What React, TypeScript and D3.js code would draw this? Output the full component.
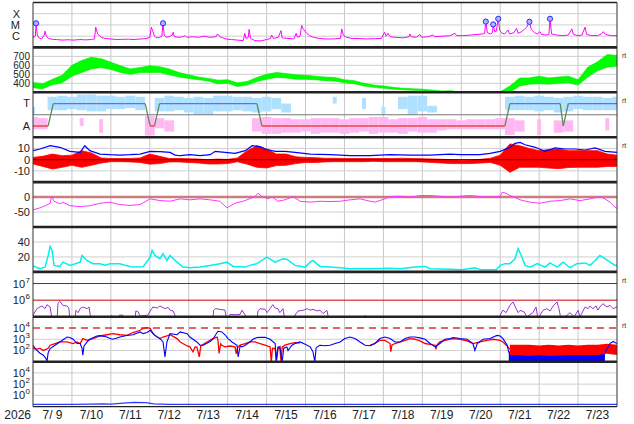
import React from 'react';
import * as d3 from 'd3';

type P = [number, number];
type B = [number, number, number];

// ---------- text ----------
const YEAR = '2026';
const DAY_LABELS = ['7/ 9', '7/10', '7/11', '7/12', '7/13', '7/14', '7/15', '7/16', '7/17', '7/18', '7/19', '7/20', '7/21', '7/22', '7/23'];
const DAY_START = 9;
const DAY_END = 24;

// ---------- panel 1: X-ray flux (log10 W/m2) ----------
const XRAY: P[] = [
  [9.0, -6.1], [9.06, -6.0], [9.08, -4.85], [9.11, -5.9], [9.15, -6.15], [9.22, -6.25], [9.29, -5.9], [9.31, -5.55], [9.34, -6.0], [9.4, -6.2],
  [9.5, -6.28], [9.6, -6.3], [9.75, -6.35], [9.9, -6.32], [10.05, -6.35], [10.2, -6.3], [10.35, -6.33], [10.5, -6.3], [10.58, -6.25], [10.61, -5.2],
  [10.66, -5.8], [10.75, -6.1], [10.85, -6.2], [11.0, -6.25], [11.15, -6.3], [11.3, -6.28], [11.45, -6.27], [11.6, -6.3], [11.75, -6.25], [11.9, -6.22],
  [12.0, -6.1], [12.04, -5.2], [12.08, -5.6], [12.12, -6.0], [12.18, -6.15], [12.25, -6.1], [12.31, -6.0], [12.34, -4.85], [12.37, -5.9], [12.42, -6.1],
  [12.5, -6.05], [12.58, -5.9], [12.6, -5.65], [12.63, -6.05], [12.75, -6.1], [12.85, -6.05], [12.9, -5.95], [12.95, -6.1], [13.1, -6.05], [13.25, -6.1],
  [13.4, -6.0], [13.55, -6.1], [13.7, -6.05], [13.74, -5.8], [13.8, -6.05], [13.95, -6.25], [14.1, -6.3], [14.25, -6.35], [14.4, -6.4], [14.44, -5.75],
  [14.47, -6.2], [14.53, -6.1], [14.55, -5.4], [14.59, -6.2], [14.7, -6.4], [14.85, -6.42], [15.0, -6.3], [15.1, -6.2], [15.13, -5.9], [15.17, -6.2],
  [15.3, -6.1], [15.37, -5.5], [15.4, -6.15], [15.55, -6.2], [15.7, -6.25], [15.76, -5.75], [15.79, -6.1], [15.86, -6.0], [15.9, -5.05], [15.95, -5.4],
  [16.02, -5.7], [16.1, -5.95], [16.2, -6.1], [16.35, -6.2], [16.5, -6.25], [16.7, -6.25], [16.9, -6.2], [16.93, -5.35], [16.97, -5.9], [17.05, -6.1],
  [17.2, -6.2], [17.4, -6.22], [17.6, -6.25], [17.8, -6.22], [17.95, -6.2], [18.03, -5.65], [18.07, -6.0], [18.12, -5.75], [18.17, -6.05], [18.3, -6.1],
  [18.5, -6.15], [18.66, -6.05], [18.68, -5.8], [18.72, -6.05], [18.85, -6.1], [18.94, -5.85], [18.98, -6.1], [19.15, -6.05], [19.27, -5.9], [19.32, -6.05],
  [19.5, -6.0], [19.7, -5.97], [19.84, -5.75], [19.88, -5.95], [20.05, -5.95], [20.25, -5.9], [20.4, -5.85], [20.55, -5.8], [20.6, -5.75], [20.63, -4.7],
  [20.67, -5.7], [20.75, -5.8], [20.8, -5.7], [20.82, -4.95], [20.86, -5.6], [20.9, -5.55], [20.95, -4.45], [20.99, -5.5], [21.05, -5.75], [21.12, -5.8],
  [21.2, -5.45], [21.24, -5.8], [21.35, -5.7], [21.42, -5.3], [21.46, -5.75], [21.55, -5.6], [21.62, -5.4], [21.68, -5.2], [21.75, -4.72], [21.8, -5.4],
  [21.88, -5.7], [21.95, -5.8], [22.02, -5.6], [22.06, -5.85], [22.18, -5.9], [22.25, -5.85], [22.28, -4.45], [22.32, -5.8], [22.45, -5.9], [22.6, -5.95],
  [22.75, -5.9], [22.84, -5.35], [22.88, -5.85], [23.0, -5.95], [23.1, -5.9], [23.18, -5.2], [23.22, -5.85], [23.35, -5.95], [23.5, -5.95], [23.6, -5.8],
  [23.65, -5.6], [23.7, -5.85], [23.85, -5.95], [24.0, -5.95],
];
const FLARES: P[] = [[9.08, -4.85], [12.34, -4.85], [20.63, -4.7], [20.82, -4.95], [20.95, -4.45], [21.75, -4.72], [22.28, -4.45]];

// ---------- panel 2: solar wind speed, 6-hourly [low, high] km/s ----------
const SPEED_BAND: P[] = [
  [350, 410], [340, 395], [385, 445], [405, 490], [480, 600], [520, 655], [560, 690], [575, 675], [555, 635], [520, 595],
  [500, 560], [520, 576], [520, 595], [520, 585], [495, 560], [470, 520], [455, 495], [440, 470], [425, 455], [395, 435],
  [400, 440], [365, 405], [380, 420], [420, 465], [445, 500], [465, 520], [460, 510], [445, 495], [445, 490], [440, 480],
  [430, 470], [425, 465], [405, 440], [395, 430], [370, 400], [355, 380], [345, 370], [335, 355], [328, 345], [322, 340],
  [318, 335], [310, 325], [300, 315], [300, 318], [285, 295], [280, 290], [280, 290], [280, 290], [290, 305], [300, 370],
  [370, 460], [390, 460], [395, 480], [390, 460], [400, 470], [405, 480], [380, 440], [470, 580], [540, 640], [580, 720],
  [590, 710],
];

// ---------- panel 3: IMF sector (T = +1, A = -1) ----------
const POLARITY: P[] = [
  [9.0, -1], [9.39, -1], [9.52, 1], [11.88, 1], [12.01, -1], [12.12, -1], [12.25, 1], [14.75, 1], [14.88, -1],
  [21.12, -1], [21.25, 1], [22.54, 1], [22.62, -1], [22.75, 1], [24.0, 1],
];
const T_SCATTER: (P | null)[] = [
  [0, 0.7], null, [0.4, 1.6], [0.4, 1.7], [0.5, 1.6], [0.4, 1.8], [0.3, 1.8], [0.3, 1.7], [0.5, 1.7], [0.5, 1.6],
  [0.6, 1.7], [0.4, 1.6], null, [0.3, 1.5], [0.3, 1.7], [0.4, 1.6], [0.2, 1.5], [0, 1.6], [0, 1.5], [0.3, 1.7],
  [0.3, 1.7], [0.4, 1.6], [0.3, 1.6], [0.2, 1.5], [0.3, 1.6], [0.5, 1.5], [0.2, 1.0], null, null, null,
  null, [1.0, 1.6], null, null, [0.5, 1.5], null, [0, 0.7], null, [0.5, 1.6], [0, 1.7],
  [0.3, 1.7], [0.2, 0.8], null, null, null, null, null, null, null, [0.4, 1.6],
  [0.4, 1.7], [0.4, 1.6], [0.3, 1.7], [0.4, 1.6], [0.2, 1.5], [0.3, 1.6], [0.5, 1.7], [0.4, 1.6], [0.4, 1.6], [0.4, 1.5],
  [0.4, 1.6],
];
const A_SCATTER: (P | null)[] = [
  [-1.3, -0.2], [-1.3, -0.3], null, null, null, [-1.0, -0.3], null, [-1.6, -0.4], null, null,
  null, null, [-1.85, -0.1], [-1.2, -0.3], [-1.5, -0.5], null, null, null, null, null,
  null, null, null, [-1.5, -0.3], [-1.7, -0.2], [-1.7, -0.3], [-1.6, -0.3], [-1.6, -0.4], [-1.5, -0.4], [-1.7, -0.3],
  [-1.6, -0.3], [-1.6, -0.3], [-1.7, -0.4], [-1.6, -0.3], [-1.5, -0.3], [-1.7, -0.2], [-1.6, -0.2], [-1.6, -0.4], [-1.7, -0.3], [-1.5, -0.3],
  [-1.6, -0.2], [-1.6, -0.4], [-1.4, -0.4], [-1.3, -0.4], [-1.3, -0.5], [-1.3, -0.4], [-1.3, -0.4], [-1.3, -0.4], [-1.3, -0.3], [-1.8, -0.3],
  [-1.5, -0.5], null, [-1.8, -0.4], null, [-1.6, -0.5], [-1.5, -0.5], null, null, null, [-1.4, -0.3],
  null,
];

// ---------- panel 4: IMF Bt and Bz (nT) ----------
const BT: P[] = [
  [9.0, 8], [9.18, 9.5], [9.44, 12.4], [9.69, 11], [9.95, 7.4], [10.21, 6.5], [10.3, 11], [10.33, 12.4], [10.46, 8], [10.72, 5],
  [10.98, 4.4], [11.23, 4.1], [11.49, 4.4], [11.75, 5], [12.01, 7.4], [12.26, 7.1], [12.52, 6.5], [12.65, 4.1], [12.78, 3.5], [13.03, 4.4],
  [13.29, 3.5], [13.55, 4.4], [13.68, 7.4], [13.93, 6.5], [14.19, 5.6], [14.45, 8], [14.63, 12.4], [14.83, 11.6], [14.96, 9.5], [15.22, 7.4],
  [15.47, 7.4], [15.73, 6.5], [16.12, 5], [16.63, 4.4], [17.14, 3.5], [17.66, 3.5], [18.17, 4.4], [18.68, 4.1], [19.2, 4.1], [19.71, 5],
  [19.97, 4.4], [20.48, 4.4], [20.74, 5.6], [21.0, 7.4], [21.25, 11], [21.38, 14.5], [21.51, 15.4], [21.64, 13.3], [21.9, 11], [22.15, 7.4],
  [22.41, 10.4], [22.67, 9.5], [22.92, 9.5], [23.18, 8.6], [23.44, 10.4], [23.69, 7.4], [24.0, 6.5],
];
const BZ_BAND: P[] = [
  [-3.8, 2], [-6, 3], [-8.3, 5], [-6.8, 3.5], [-5, 4], [-6.8, 8], [-5, 6], [-3, 1.5], [-1.8, 1], [-1.8, 1],
  [-2, 1], [-2.5, 1.5], [-4, 5], [-3.5, 3], [-2, 1], [-2, 1], [-2.5, 0.8], [-3, 0.5], [-3.8, 0], [-3.8, 0.5],
  [-3.5, 0.2], [-1.8, 1.5], [-4, 8], [-6.8, 12.4], [-7.4, 9.5], [-5.3, 5], [-5, 5], [-3.5, 2.5], [-2.5, 2], [-2.5, 1.8],
  [-2, 1.2], [-1.8, 1.2], [-1.8, 1], [-1.8, 1], [-1.8, 1], [-1.5, 1], [-1.8, 1], [-1.8, 1], [-1.8, 1.2], [-1.8, 1],
  [-2, 0.8], [-2.5, 0.6], [-3, 0.3], [-3.5, 0], [-3.5, -0.5], [-3.5, -0.3], [-3, 0.3], [-2.5, 1.2], [-5, 4], [-11.3, 14],
  [-6.8, 12.4], [-6.8, 10], [-6.8, 8], [-7.5, 9], [-8, 9.5], [-7, 8], [-6.8, 8], [-6.8, 8], [-6.8, 8], [-6, 5],
  [-6, 4],
];

// ---------- panel 5: Dst (nT) ----------
const DST: P[] = [
  [9.0, -42.7], [9.18, -36], [9.33, -28], [9.44, -20.7], [9.475, 2.7], [9.54, -14], [9.69, -22.7], [9.77, -17], [9.95, -29], [10.21, -31.7],
  [10.46, -29], [10.72, -20.7], [10.98, -17], [11.23, -25], [11.49, -28], [11.75, -25], [12.01, -6], [12.26, -11.7], [12.52, -14], [12.78, -6],
  [13.03, -9.3], [13.29, -6], [13.55, -9.3], [13.8, -14], [13.98, -36], [14.19, -20.7], [14.45, -11.7], [14.7, 1.7], [14.78, 12.7], [14.88, 1.7],
  [15.04, -6], [15.14, 1.7], [15.29, -14], [15.47, -9.3], [15.68, 1.7], [15.86, -14], [16.12, -17], [16.37, -14], [16.63, -15], [16.89, -14],
  [17.14, -9.3], [17.4, -6], [17.66, -14], [17.78, -17], [18.04, -6], [18.17, 1.7], [18.43, 2.7], [18.68, -0.7], [18.94, 5], [19.2, 5],
  [19.45, 2.7], [19.71, -0.7], [19.97, 2.7], [20.23, 5], [20.48, 1.7], [20.74, -0.7], [21.0, 2.7], [21.05, 16], [21.15, 12.7], [21.25, 5],
  [21.38, -0.7], [21.51, -9.3], [21.77, -17], [22.02, -20.7], [22.28, -14], [22.54, -11.7], [22.79, -6], [23.05, -11.7], [23.31, -6], [23.56, 1.7],
  [23.69, -6], [23.82, -17], [23.95, -34], [24.0, -38],
];

// ---------- panel 6: cyan index ----------
const CYAN: P[] = [
  [9.0, 8], [9.18, 4.3], [9.31, 6.4], [9.39, 22], [9.44, 34], [9.49, 28.7], [9.54, 8.7], [9.69, 7.3], [9.77, 13], [9.95, 8.7],
  [10.21, 13], [10.26, 22], [10.39, 15], [10.54, 11], [10.72, 11], [10.85, 9], [10.98, 11], [11.23, 11], [11.36, 9], [11.57, 6.4],
  [11.83, 7], [12.01, 19.7], [12.06, 28.7], [12.13, 22], [12.26, 17.6], [12.34, 24.3], [12.44, 15.3], [12.52, 22], [12.7, 13], [12.85, 6.4],
  [13.03, 5.6], [13.29, 6.4], [13.55, 8.7], [13.8, 11], [13.98, 13], [14.14, 7.3], [14.45, 6.4], [14.57, 8.7], [14.75, 11], [15.01, 19.7],
  [15.22, 13], [15.42, 17.6], [15.52, 17], [15.73, 8.7], [15.99, 6.4], [16.12, 13], [16.19, 15.3], [16.37, 7.3], [16.63, 6.4], [16.89, 5.6],
  [17.14, 4.3], [17.66, 4.3], [18.17, 5], [18.43, 4.3], [18.81, 6.4], [19.07, 7.3], [19.2, 4.3], [19.71, 3.4], [20.0, 3], [20.35, 5.6],
  [20.5, 3], [20.9, 3], [21.0, 8.7], [21.12, 11], [21.25, 11], [21.38, 17.6], [21.46, 31], [21.54, 22], [21.64, 8.7], [21.77, 6.4],
  [21.95, 11], [22.15, 6.4], [22.28, 12], [22.46, 6.4], [22.62, 13], [22.79, 5.6], [22.97, 11], [23.18, 12], [23.31, 8.7], [23.44, 15.3],
  [23.56, 22], [23.69, 17.6], [23.82, 13], [23.95, 8.7], [24.0, 9],
];

// ---------- panel 7: purple flux (log10) ----------
const PURPLE: P[] = [
  [9.0, 5.09], [9.1, 5.49], [9.13, 5.53], [9.23, 5.65], [9.31, 5.49], [9.36, 5.73], [9.44, 5.59], [9.49, 4.8], [9.62, 4.8], [9.64, 5.79],
  [9.69, 5.93], [9.77, 5.69], [9.87, 5.65], [9.92, 5.53], [9.95, 4.8], [10.08, 4.8], [10.1, 5.39], [10.16, 5.25], [10.21, 5.49], [10.28, 5.59],
  [10.39, 5.49], [10.44, 5.59], [10.49, 4.8], [10.5, NaN],
  [10.98, 4.8], [11.02, 5.1], [11.08, 4.8], [11.1, NaN],
  [11.18, 4.8], [11.22, 5.1], [11.31, 5.1], [11.33, 4.8], [11.4, NaN],
  [11.62, 4.8], [11.64, 5.35], [11.7, 5.3], [11.75, 5.05], [11.95, 5.1], [12.01, 5.35], [12.08, 5.59], [12.19, 5.53], [12.26, 5.65], [12.39, 5.49],
  [12.47, 5.57], [12.52, 5.39], [12.6, 5.35], [12.7, 4.8], [12.8, NaN],
  [13.62, 4.8], [13.64, 5.39], [13.68, 5.49], [13.8, 5.45], [13.93, 5.4], [13.98, 4.8], [14.06, 5.15], [14.19, 5.12], [14.32, 5.15], [14.37, 5.4],
  [14.45, 5.1], [14.5, 4.8], [14.6, NaN],
  [14.75, 4.8], [14.78, 5.35], [14.83, 5.49], [14.96, 5.45], [15.01, 5.25], [15.09, 5.49], [15.16, 5.73], [15.22, 5.53], [15.29, 5.49], [15.34, 5.25],
  [15.42, 5.49], [15.47, 4.8], [15.5, NaN],
  [15.7, 4.8], [15.73, 5.1], [15.81, 5.35], [15.94, 5.39], [16.04, 5.49], [16.12, 5.4], [16.19, 5.45], [16.3, 5.35], [16.37, 5.4], [16.45, 5.19],
  [16.55, 5.39], [16.6, 4.8], [16.7, NaN],
  [17.5, 4.8], [17.53, 5.08], [17.57, 4.8], [17.6, NaN],
  [20.28, 4.8], [20.33, 5.02], [20.45, 4.95], [20.5, 4.8], [20.6, NaN],
  [20.98, 4.8], [21.0, 5.1], [21.07, 5.4], [21.15, 5.25], [21.25, 5.69], [21.33, 5.89], [21.41, 5.49], [21.46, 5.25], [21.51, 5.39], [21.61, 5.3],
  [21.69, 5.0], [21.84, 5.25], [21.92, 5.59], [21.97, 4.9], [22.1, 5.39], [22.2, 5.49], [22.28, 5.35], [22.36, 5.65], [22.46, 5.89], [22.51, 5.49],
  [22.56, 4.85], [22.72, 5.1], [22.79, 5.25], [22.9, 5.0], [23.0, 5.39], [23.05, 5.0], [23.18, 5.59], [23.26, 5.49], [23.31, 5.65], [23.38, 5.49],
  [23.46, 5.65], [23.51, 5.4], [23.56, 5.59], [23.64, 5.79], [23.74, 5.59], [23.82, 5.69], [23.9, 5.49], [24.0, 5.59],
];

// ---------- panel 8: electron flux (log10), red and blue ----------
const E_BLUE: P[] = [
  [9.0, 2.45], [9.1, 2.0], [9.18, 1.75], [9.26, 1.6], [9.33, 1.3], [9.36, 1.05], [9.39, 1.8], [9.44, 2.17], [9.565, 2.47], [9.69, 2.76],
  [9.82, 3.06], [9.87, 3.2], [9.95, 3.15], [10.03, 3.0], [10.13, 2.62], [10.21, 2.62], [10.26, 2.2], [10.28, 1.58], [10.31, 2.4], [10.39, 2.76],
  [10.46, 3.0], [10.64, 3.29], [10.72, 3.32], [10.9, 3.2], [10.98, 3.06], [11.05, 3.0], [11.16, 3.12], [11.23, 3.2], [11.41, 3.34], [11.57, 3.4],
  [11.75, 3.65], [11.83, 3.5], [11.93, 3.6], [12.01, 3.8], [12.13, 3.34], [12.26, 3.06], [12.34, 2.76], [12.39, 1.43], [12.44, 2.76], [12.52, 3.5],
  [12.7, 3.4], [12.78, 3.65], [12.96, 3.5], [13.03, 3.2], [13.21, 2.76], [13.29, 2.47], [13.37, 2.47], [13.55, 2.8], [13.62, 3.0], [13.68, 3.34],
  [13.75, 3.71], [13.85, 3.65], [13.93, 3.4], [14.01, 3.06], [14.11, 2.76], [14.24, 2.47], [14.27, 1.43], [14.32, 2.4], [14.37, 2.32], [14.45, 2.47],
  [14.57, 2.76], [14.65, 3.0], [14.75, 3.15], [14.83, 3.17], [14.96, 3.17], [15.09, 3.0], [15.22, 2.62], [15.25, 1.1], [15.29, 2.3], [15.34, 2.32],
  [15.4, 1.0], [15.44, 2.2], [15.52, 2.32], [15.55, 2.0], [15.65, 2.47], [15.73, 2.62], [15.86, 2.76], [15.99, 2.55], [16.12, 2.32], [16.19, 1.9],
  [16.24, 1.0], [16.27, 2.2], [16.3, 2.32], [16.37, 2.47], [16.5, 2.42], [16.63, 2.47], [16.76, 2.62], [16.89, 2.76], [17.01, 3.06], [17.14, 3.2],
  [17.27, 3.06], [17.4, 2.76], [17.53, 2.47], [17.66, 2.42], [17.78, 2.62], [17.91, 3.06], [18.04, 3.2], [18.17, 3.06], [18.3, 2.76], [18.43, 2.76],
  [18.56, 3.06], [18.68, 3.2], [18.81, 3.2], [18.94, 3.12], [19.07, 3.0], [19.2, 2.62], [19.33, 2.32], [19.45, 2.62], [19.58, 3.0], [19.71, 3.06],
  [19.79, 3.15], [19.97, 3.06], [20.15, 3.0], [20.3, 2.62], [20.35, 2.0], [20.41, 2.62], [20.56, 3.0], [20.74, 3.06], [20.82, 3.2], [20.92, 3.34],
  [21.0, 3.29], [21.07, 3.06], [21.18, 2.47], [21.22, 1.8], [21.23, NaN],
  [23.69, 1.8], [23.82, 2.62], [23.9, 2.8], [24.0, 2.62],
];
const E_BLUE_BAND: B[] = [
  [21.22, 1.0, 1.9], [21.5, 1.0, 2.0], [21.75, 1.0, 1.9], [22.0, 1.0, 2.0], [22.25, 1.0, 1.8], [22.5, 1.0, 2.0],
  [22.75, 1.0, 1.9], [23.0, 1.0, 1.9], [23.25, 1.0, 2.0], [23.5, 1.0, 2.0], [23.69, 1.0, 2.1],
];
const E_RED: P[] = [
  [9.0, 2.2], [9.1, 2.1], [9.18, 2.2], [9.26, 2.0], [9.33, 2.1], [9.39, 2.2], [9.44, 2.47], [9.565, 2.62], [9.69, 2.76], [9.87, 2.76],
  [10.03, 2.62], [10.13, 2.76], [10.21, 2.62], [10.28, 3.06], [10.39, 2.9], [10.54, 3.06], [10.72, 3.29], [10.9, 3.4], [11.05, 3.5], [11.23, 3.4],
  [11.41, 3.34], [11.57, 3.6], [11.75, 3.8], [11.83, 3.98], [11.93, 4.03], [12.01, 3.98], [12.08, 3.5], [12.19, 3.2], [12.26, 3.06], [12.34, 3.2],
  [12.44, 3.3], [12.52, 3.4], [12.7, 3.06], [12.78, 2.76], [12.96, 2.4], [13.03, 2.32], [13.11, 1.87], [13.16, 2.3], [13.21, 2.32], [13.27, 1.43],
  [13.31, 2.4], [13.47, 2.76], [13.62, 3.06], [13.73, 3.2], [13.75, 2.9], [13.78, 1.73], [13.82, 2.6], [13.85, 2.47], [13.93, 2.32], [14.06, 2.4],
  [14.19, 2.32], [14.22, 1.7], [14.26, 2.3], [14.32, 2.47], [14.45, 2.62], [14.57, 2.76], [14.7, 2.76], [14.83, 2.62], [14.96, 2.47], [15.09, 2.32],
  [15.12, 1.0], [15.15, 2.2], [15.22, 2.17], [15.25, 1.0], [15.29, 2.1], [15.34, 2.32], [15.37, 1.0], [15.4, 2.3], [15.47, 2.47], [15.6, 2.62],
  [15.73, 2.7], [15.86, 2.68], [15.87, NaN],
  [17.66, 2.47], [17.78, 2.62], [17.91, 2.9], [18.04, 2.9], [18.17, 2.62], [18.19, 1.9], [18.22, 2.5], [18.3, 2.62], [18.43, 2.76], [18.56, 2.9],
  [18.68, 3.06], [18.81, 3.0], [18.94, 2.85], [19.07, 2.62], [19.2, 2.55], [19.33, 2.47], [19.35, 2.1], [19.38, 2.5], [19.45, 2.76], [19.58, 2.9],
  [19.79, 3.06], [19.97, 3.0], [20.15, 2.85], [20.3, 2.62], [20.48, 2.76], [20.66, 2.9], [20.82, 3.0], [21.0, 2.9], [21.07, 2.76], [21.18, 2.4],
  [21.25, 2.1],
];
const E_RED_BAND: B[] = [
  [21.25, 1.6, 2.5], [21.5, 1.6, 2.5], [21.75, 1.5, 2.5], [22.0, 1.6, 2.45], [22.25, 1.5, 2.5], [22.5, 1.55, 2.45],
  [22.75, 1.6, 2.5], [23.0, 1.6, 2.45], [23.25, 1.6, 2.5], [23.5, 1.6, 2.5], [23.75, 1.7, 2.6], [24.0, 1.6, 2.5],
];

// ---------- panel 9: low flux (log10) ----------
const LOW: P[] = [
  [9.0, -1.6], [9.5, -1.62], [10.0, -1.6], [10.5, -1.55], [10.8, -1.5], [11.0, -1.55], [11.4, -1.35], [11.6, -1.25], [11.9, -1.3], [12.1, -1.5],
  [12.5, -1.6], [13.0, -1.62], [14.0, -1.6], [15.0, -1.62], [16.0, -1.6], [17.0, -1.62], [18.0, -1.6], [19.0, -1.62], [20.0, -1.6], [21.0, -1.6],
  [22.0, -1.62], [23.0, -1.6], [24.0, -1.6],
];

// ---------- layout ----------
const W = 634;
const H = 424;
const L = 33;
const R = 617;
const TOP = 2.5;
const PH = 44.9;
const FONT = 'Liberation Sans, Arial, Helvetica, sans-serif';

export default function App() {
  const x = d3.scaleLinear().domain([DAY_START, DAY_END]).range([L, R]);
  const pTop = (i: number) => TOP + i * PH;
  const ys = (i: number, d: [number, number]) => d3.scaleLinear().domain(d).range([pTop(i) + PH, pTop(i)]);
  const yX = ys(0, [-7, -3]);
  const ySW = ys(1, [300, 800]);
  const yPol = ys(2, [-2, 2]);
  const yB = ys(3, [-20, 20]);
  const yDst = ys(4, [-100, 50]);
  const yAE = ys(5, [0, 60]);
  const yPr = ys(6, [5, 7.7]);
  const yE = ys(7, [1, 5]);
  const yLow = ys(8, [-2, 6]);

  const mkLine = (yy: d3.ScaleLinear<number, number>) =>
    d3.line<P>().defined((d) => Number.isFinite(d[1])).x((d) => x(d[0])).y((d) => yy(d[1]));
  const gridT = (i: number) => DAY_START + i * 0.25;
  const mkBand6h = (yy: d3.ScaleLinear<number, number>, data: P[]) =>
    d3.area<P>().x((_, i) => x(gridT(i))).y0((d) => yy(d[0])).y1((d) => yy(d[1]))(data) || '';
  const mkBand = (yy: d3.ScaleLinear<number, number>, data: B[]) =>
    d3.area<B>().x((d) => x(d[0])).y0((d) => yy(d[1])).y1((d) => yy(d[2]))(data) || '';

  const grids: { s: d3.ScaleLinear<number, number>; v: number[] }[] = [
    { s: yX, v: [-4, -5, -6] },
    { s: ySW, v: [400, 500, 600, 700] },
    { s: yB, v: [-10, 10] },
    { s: yDst, v: [-50] },
    { s: yAE, v: [20, 40] },
    { s: yE, v: [2, 3] },
    { s: yLow, v: [0, 2, 4] },
  ];

  type Lab = { y: number; t: string; sup?: string; xe?: number; fs?: number };
  const labels: Lab[] = [
    { y: yX(-4), t: 'X', xe: 20 },
    { y: yX(-5), t: 'M', xe: 20 },
    { y: yX(-6), t: 'C', xe: 20 },
    ...[700, 600, 500, 400].map((v) => ({ y: ySW(v), t: String(v), fs: 10 })),
    { y: yPol(1), t: 'T' },
    { y: yPol(-1), t: 'A' },
    { y: yB(10), t: '10' },
    { y: yB(0), t: '0' },
    { y: yB(-10), t: '-10' },
    { y: yDst(0), t: '0' },
    { y: yDst(-50), t: '-50' },
    { y: yAE(40), t: '40' },
    { y: yAE(20), t: '20' },
    { y: yPr(7), t: '10', sup: '7' },
    { y: yPr(6), t: '10', sup: '6' },
    { y: yE(4), t: '10', sup: '4' },
    { y: yE(3), t: '10', sup: '3' },
    { y: yE(2), t: '10', sup: '2' },
    { y: yLow(4), t: '10', sup: '4' },
    { y: yLow(2), t: '10', sup: '2' },
    { y: yLow(0), t: '10', sup: '0' },
  ];
  const rtPanels = [1, 2, 3, 6, 7];

  const scatterRects = (arr: (P | null)[], color: string, key: string) =>
    arr.map((d, i) => {
      if (!d) return null;
      const run = (i > 0 && arr[i - 1]) || (i < arr.length - 1 && arr[i + 1]);
      const hw = run ? 0.125 : 0.05;
      const t = gridT(i);
      const x0 = x(Math.max(DAY_START, t - hw));
      const x1 = x(Math.min(DAY_END, t + hw));
      return (
        <rect key={key + i} x={x0} width={x1 - x0} y={yPol(d[1])} height={yPol(d[0]) - yPol(d[1])} fill={color} />
      );
    });

  const polSegs = POLARITY.slice(1).map((d, i) => {
    const p = POLARITY[i];
    const col = p[1] > 0 && d[1] > 0 ? '#6b6bf2' : p[1] < 0 && d[1] < 0 ? '#e84848' : '#5b8a5b';
    return <line key={'pol' + i} x1={x(p[0])} y1={yPol(p[1])} x2={x(d[0])} y2={yPol(d[1])} stroke={col} strokeWidth={1.3} />;
  });

  return (
    <svg width={W} height={H} style={{ position: 'absolute', left: 0, top: 0, background: '#fff' }} fontFamily={FONT}>
      <defs>
        {d3.range(9).map((i) => (
          <clipPath id={'clip' + i} key={i}>
            <rect x={L} y={pTop(i)} width={R - L} height={PH} />
          </clipPath>
        ))}
      </defs>

      {/* vertical day grid */}
      {d3.range(DAY_START + 1, DAY_END).map((d) => (
        <line key={'vg' + d} x1={x(d)} x2={x(d)} y1={TOP} y2={pTop(9)} stroke="#c8c8c8" strokeWidth={1} />
      ))}
      {/* horizontal grid */}
      {grids.map((g, gi) =>
        g.v.map((v) => <line key={'hg' + gi + '_' + v} x1={L} x2={R} y1={g.s(v)} y2={g.s(v)} stroke="#cfcfcf" strokeWidth={1} />)
      )}

      {/* panel 1: X-ray */}
      <g clipPath="url(#clip0)">
        <path d={mkLine(yX)(XRAY) || ''} fill="none" stroke="#ff00ff" strokeWidth={1} />
      </g>
      {FLARES.map((d, i) => (
        <circle key={'fl' + i} cx={x(d[0])} cy={yX(d[1])} r={2.6} fill="#aab4ff" stroke="#2a2aff" strokeWidth={1} />
      ))}

      {/* panel 2: solar wind speed */}
      <g clipPath="url(#clip1)">
        <path d={mkBand6h(ySW, SPEED_BAND)} fill="#00ff00" stroke="#00e600" strokeWidth={0.6} />
      </g>

      {/* panel 3: IMF sector */}
      <g clipPath="url(#clip2)">
        {scatterRects(T_SCATTER, '#b0e0ff', 'ts')}
        {scatterRects(A_SCATTER, '#ffb8f2', 'as')}
        <line x1={L} x2={R} y1={yPol(0)} y2={yPol(0)} stroke="#777" strokeWidth={1} />
        {polSegs}
      </g>

      {/* panel 4: IMF */}
      <g clipPath="url(#clip3)">
        <path d={mkBand6h(yB, BZ_BAND)} fill="#ff0000" stroke="#ff0000" strokeWidth={0.8} />
        <line x1={L} x2={R} y1={yB(0)} y2={yB(0)} stroke="#500000" strokeWidth={1} />
        <path d={mkLine(yB)(BT) || ''} fill="none" stroke="#0000ff" strokeWidth={1.2} />
      </g>

      {/* panel 5: Dst */}
      <g clipPath="url(#clip4)">
        <line x1={L} x2={R} y1={yDst(0)} y2={yDst(0)} stroke="#c46868" strokeWidth={2.5} opacity={0.85} />
        <path d={mkLine(yDst)(DST) || ''} fill="none" stroke="#ff33ff" strokeWidth={1} />
      </g>

      {/* panel 6: cyan */}
      <g clipPath="url(#clip5)">
        <path d={mkLine(yAE)(CYAN) || ''} fill="none" stroke="#00f0f0" strokeWidth={1.5} />
      </g>

      {/* panel 7: purple */}
      <g clipPath="url(#clip6)">
        <line x1={L} x2={R} y1={yPr(7)} y2={yPr(7)} stroke="#cc0000" strokeWidth={1} />
        <line x1={L} x2={R} y1={yPr(6)} y2={yPr(6)} stroke="#cc0000" strokeWidth={1} />
        <path d={mkLine(yPr)(PURPLE) || ''} fill="none" stroke="#9933cc" strokeWidth={1} />
      </g>

      {/* panel 8: electrons */}
      <g clipPath="url(#clip7)">
        <line x1={L} x2={R} y1={yE(4)} y2={yE(4)} stroke="#dd3535" strokeWidth={1.5} strokeDasharray="7,5" />
        <path d={mkBand(yE, E_BLUE_BAND)} fill="#0000ff" />
        <path d={mkBand(yE, E_RED_BAND)} fill="#ff0000" />
        <path d={mkLine(yE)(E_RED) || ''} fill="none" stroke="#ff0000" strokeWidth={1.3} />
        <path d={mkLine(yE)(E_BLUE) || ''} fill="none" stroke="#0000ff" strokeWidth={1.1} />
      </g>

      {/* panel 9: low flux */}
      <g clipPath="url(#clip8)">
        <path d={mkLine(yLow)(LOW) || ''} fill="none" stroke="#2a3cff" strokeWidth={1.2} />
      </g>

      {/* frame */}
      <line x1={L} x2={R} y1={TOP} y2={TOP} stroke="#222" strokeWidth={1.3} />
      {d3.range(1, 9).map((i) => (
        <line key={'sep' + i} x1={L} x2={R} y1={pTop(i)} y2={pTop(i)} stroke="#222" strokeWidth={2.6} />
      ))}
      <line x1={L} x2={R} y1={pTop(9)} y2={pTop(9)} stroke="#222" strokeWidth={1.2} />
      <line x1={L} x2={L} y1={TOP} y2={pTop(9)} stroke="#333" strokeWidth={1} />
      <line x1={R} x2={R} y1={TOP} y2={pTop(9)} stroke="#333" strokeWidth={1} />

      {/* y labels */}
      {labels.map((lb, i) => (
        <text key={'yl' + i} x={lb.xe ?? 30} y={lb.y + (lb.fs ?? 11) * 0.36} textAnchor="end" fontSize={lb.fs ?? 11} fill="#222">
          {lb.sup !== undefined ? (
            <>
              <tspan>{lb.t}</tspan>
              <tspan dx={0.5} dy={-5} fontSize={8}>{lb.sup}</tspan>
            </>
          ) : (
            lb.t
          )}
        </text>
      ))}
      {rtPanels.map((i) => (
        <text key={'rt' + i} x={622} y={pTop(i) + 11} fontSize={7} fill="#333">
          rt
        </text>
      ))}

      {/* x labels */}
      <text x={31} y={419} textAnchor="end" fontSize={12} fill="#222">
        {YEAR}
      </text>
      {DAY_LABELS.map((t, i) => (
        <text key={'xl' + i} x={x(DAY_START + i + 0.5)} y={419} textAnchor="middle" fontSize={12} fill="#222" style={{ whiteSpace: 'pre' }}>
          {t}
        </text>
      ))}
    </svg>
  );
}
